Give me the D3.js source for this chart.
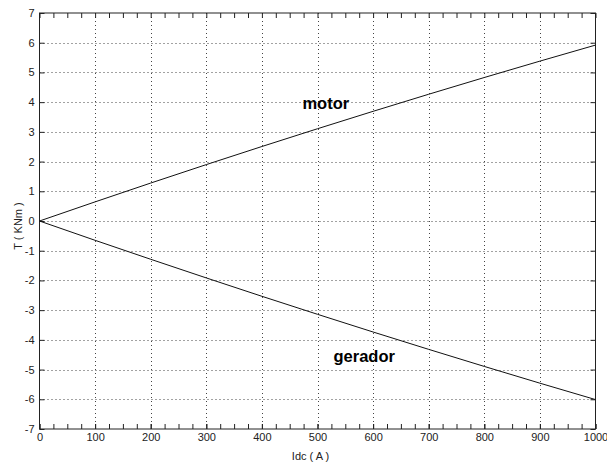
<!DOCTYPE html>
<html>
<head>
<meta charset="utf-8">
<script src="https://cdn.jsdelivr.net/npm/d3@7"></script>
<style>
  html, body { margin: 0; padding: 0; background: #fff; }
  svg { display: block; font-family: "Liberation Sans", Arial, sans-serif; }
</style>
</head>
<body>
<svg id="chart" width="607" height="462"></svg>
<script>
// DC current (A) and torque (kN·m) for motor and generator operation
const idc = [0, 100, 200, 300, 400, 500, 600, 700, 800, 900, 1000];
const torqueMotor = [0, 0.644, 1.277, 1.898, 2.507, 3.105, 3.691, 4.266, 4.829, 5.380, 5.92];
const torqueGerador = [0, -0.650, -1.288, -1.916, -2.534, -3.140, -3.736, -4.320, -4.894, -5.458, -6.01];

const xTicks = [0, 100, 200, 300, 400, 500, 600, 700, 800, 900, 1000];
const xMinorTicks = d3.range(0, 1001, 25);
const yTicks = [-7, -6, -5, -4, -3, -2, -1, 0, 1, 2, 3, 4, 5, 6, 7];

const xLabel = "Idc  ( A )";
const yLabel = "T  ( KNm )";
const seriesLabels = [
  { text: "motor", x: 515, y: 3.76 },
  { text: "gerador", x: 584, y: -4.74 }
];

const svg = d3.select("#chart");
const x = d3.scaleLinear().domain([0, 1000]).range([39.5, 595.5]);
const y = d3.scaleLinear().domain([-7, 7]).range([429, 13]);
const plotLeft = x(0), plotRight = x(1000), plotTop = y(7), plotBottom = y(-7);
const plainNumber = d => String(d);

// dotted grid
const grid = svg.append("g").attr("stroke", "#444").attr("stroke-width", 1)
  .attr("stroke-dasharray", "1,3");
grid.selectAll("line.gx").data(xTicks.filter(d => d > 0 && d < 1000)).join("line")
  .attr("x1", d => Math.round(x(d)) + 0.5).attr("x2", d => Math.round(x(d)) + 0.5)
  .attr("y1", plotTop).attr("y2", plotBottom);
grid.selectAll("line.gy").data(yTicks.filter(d => d > -7 && d < 7)).join("line")
  .attr("y1", d => Math.round(y(d)) + 0.5).attr("y2", d => Math.round(y(d)) + 0.5)
  .attr("x1", plotLeft).attr("x2", plotRight);

// axes with inward ticks
function styleAxis(g) {
  g.select(".domain").remove();
  g.selectAll(".tick line").attr("stroke", "#222");
  g.selectAll(".tick text").attr("fill", "#222").style("font-size", "11px")
    .style("font-family", "'Liberation Sans', Arial, sans-serif");
}
svg.append("g").attr("transform", `translate(0,${plotBottom})`)
  .call(d3.axisBottom(x).tickValues(xTicks).tickSizeInner(-5).tickSizeOuter(0).tickPadding(4)
    .tickFormat(plainNumber))
  .call(styleAxis);
svg.append("g").attr("transform", `translate(0,${plotBottom})`)
  .call(d3.axisBottom(x).tickValues(xMinorTicks).tickSizeInner(-5).tickSizeOuter(0).tickFormat(""))
  .call(styleAxis);
svg.append("g").attr("transform", `translate(0,${plotTop})`)
  .call(d3.axisTop(x).tickValues(xMinorTicks).tickSizeInner(-5).tickSizeOuter(0).tickFormat(""))
  .call(styleAxis);
svg.append("g").attr("transform", `translate(${plotLeft},0)`)
  .call(d3.axisLeft(y).tickValues(yTicks).tickSizeInner(-5).tickSizeOuter(0).tickPadding(5)
    .tickFormat(plainNumber))
  .call(styleAxis);
svg.append("g").attr("transform", `translate(${plotRight},0)`)
  .call(d3.axisRight(y).tickValues(yTicks).tickSizeInner(-5).tickSizeOuter(0).tickFormat(""))
  .call(styleAxis);

// frame
svg.append("rect").attr("x", plotLeft).attr("y", plotTop)
  .attr("width", plotRight - plotLeft).attr("height", plotBottom - plotTop)
  .attr("fill", "none").attr("stroke", "#222").attr("stroke-width", 1);

// torque curves
const line = d3.line().x(d => x(d[0])).y(d => y(d[1]));
[torqueMotor, torqueGerador].forEach(series => {
  svg.append("path").datum(idc.map((v, i) => [v, series[i]]))
    .attr("d", line).attr("fill", "none").attr("stroke", "#111").attr("stroke-width", 1);
});

// curve labels
svg.selectAll("text.series").data(seriesLabels).join("text")
  .attr("class", "series")
  .attr("x", d => x(d.x)).attr("y", d => y(d.y))
  .attr("text-anchor", "middle")
  .style("font-size", "16.5px").style("font-weight", "bold").attr("fill", "#000")
  .text(d => d.text);

// axis titles
svg.append("text").attr("x", 310.5).attr("y", 459.5).attr("text-anchor", "middle")
  .style("font-size", "11px").attr("fill", "#222").text(xLabel);
svg.append("text").attr("transform", "translate(21.5,226) rotate(-90)")
  .attr("text-anchor", "middle").style("font-size", "11px").attr("fill", "#222").text(yLabel);
</script>
</body>
</html>
